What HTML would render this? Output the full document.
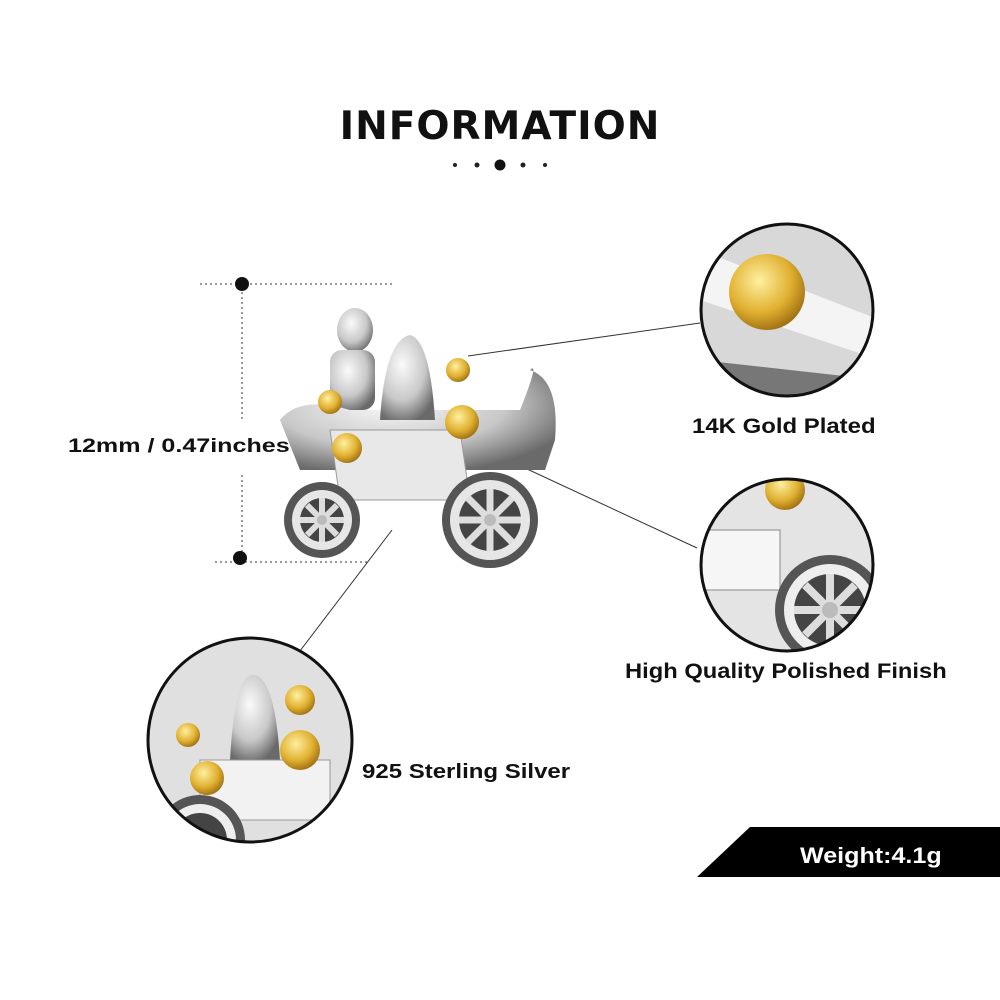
<!DOCTYPE html>
<html><head><meta charset="utf-8"><style>
html,body{margin:0;padding:0;background:#fff;}
body{width:1000px;height:1000px;position:relative;overflow:hidden;font-family:"Liberation Sans",Arial,sans-serif;}
.t{position:absolute;font-weight:bold;color:#111;white-space:nowrap;transform-origin:0 0;}
</style></head><body>
<svg width="1000" height="1000" style="position:absolute;left:0;top:0">
<defs>
<radialGradient id="sil" cx="40%" cy="35%" r="70%"><stop offset="0" stop-color="#fafafa"/><stop offset="0.6" stop-color="#c8c8c8"/><stop offset="1" stop-color="#6a6a6a"/></radialGradient>
<radialGradient id="gold" cx="40%" cy="35%" r="70%"><stop offset="0" stop-color="#fff0a0"/><stop offset="0.6" stop-color="#e0b030"/><stop offset="1" stop-color="#9a6a10"/></radialGradient>
<clipPath id="c1"><circle cx="787" cy="310" r="86"/></clipPath>
<clipPath id="c2"><circle cx="787" cy="565" r="86"/></clipPath>
<clipPath id="c3"><circle cx="250" cy="740" r="102"/></clipPath>
</defs>
<circle cx="455" cy="165" r="2" fill="#222"/><circle cx="477" cy="165" r="2.5" fill="#222"/>
<circle cx="500" cy="165" r="5.5" fill="#111"/>
<circle cx="523" cy="165" r="2.5" fill="#222"/><circle cx="545" cy="165" r="2" fill="#222"/>
<g stroke="#333" stroke-width="1" stroke-dasharray="2,3" fill="none">
<line x1="200" y1="284" x2="395" y2="284"/>
<line x1="242" y1="292" x2="242" y2="420"/>
<line x1="242" y1="475" x2="242" y2="552"/>
<line x1="215" y1="562" x2="370" y2="562"/>
</g>
<circle cx="242" cy="284" r="7" fill="#111"/>
<circle cx="240" cy="558" r="7" fill="#111"/>
<g stroke="#333" stroke-width="1">
<line x1="468" y1="356" x2="700" y2="323"/>
<line x1="512" y1="462" x2="697" y2="548"/>
<line x1="392" y1="530" x2="287" y2="668"/>
</g>
<g>
<ellipse cx="355" cy="330" rx="18" ry="22" fill="url(#sil)"/>
<rect x="330" y="350" width="45" height="60" rx="12" fill="url(#sil)"/>
<path d="M280 420 Q300 395 350 410 L520 410 Q540 360 530 370 Q560 380 555 440 L545 470 L300 470 Z" fill="url(#sil)"/>
<path d="M380 420 Q385 340 410 335 Q430 340 435 420 Z" fill="url(#sil)"/>
<path d="M330 430 L460 430 L470 500 L340 500 Z" fill="#e8e8e8" stroke="#999"/>
<g transform="translate(322,520)"><circle r="38" fill="#555"/><circle r="30" fill="#e6e6e6"/><circle r="22" fill="#444"/><g stroke="#ddd" stroke-width="6"><line x1="-22" y1="0" x2="22" y2="0"/><line x1="0" y1="-22" x2="0" y2="22"/><line x1="-15" y1="-15" x2="15" y2="15"/><line x1="-15" y1="15" x2="15" y2="-15"/></g><circle r="5" fill="#bbb"/></g>
<g transform="translate(490,520)"><circle r="48" fill="#555"/><circle r="40" fill="#e6e6e6"/><circle r="31" fill="#444"/><g stroke="#ddd" stroke-width="7"><line x1="-31" y1="0" x2="31" y2="0"/><line x1="0" y1="-31" x2="0" y2="31"/><line x1="-22" y1="-22" x2="22" y2="22"/><line x1="-22" y1="22" x2="22" y2="-22"/></g><circle r="6" fill="#bbb"/></g>
<circle cx="458" cy="370" r="12" fill="url(#gold)"/>
<circle cx="330" cy="402" r="12" fill="url(#gold)"/>
<circle cx="462" cy="422" r="17" fill="url(#gold)"/>
<circle cx="347" cy="448" r="15" fill="url(#gold)"/>
</g>
<g clip-path="url(#c1)">
<rect x="690" y="220" width="200" height="180" fill="#d8d8d8"/>
<path d="M700 250 L880 320 L880 360 L700 300Z" fill="#f4f4f4"/>
<path d="M700 360 L880 380 L880 400 L700 400Z" fill="#777"/>
<circle cx="767" cy="292" r="38" fill="url(#gold)"/>
</g>
<circle cx="787" cy="310" r="86" fill="none" stroke="#111" stroke-width="3"/>
<g clip-path="url(#c2)">
<rect x="690" y="470" width="200" height="190" fill="#e4e4e4"/>
<rect x="700" y="530" width="80" height="60" fill="#f6f6f6" stroke="#888"/>
<g transform="translate(830,610)"><circle r="55" fill="#555"/><circle r="46" fill="#eee"/><circle r="36" fill="#444"/><g stroke="#ddd" stroke-width="8"><line x1="-36" y1="0" x2="36" y2="0"/><line x1="0" y1="-36" x2="0" y2="36"/><line x1="-25" y1="-25" x2="25" y2="25"/><line x1="-25" y1="25" x2="25" y2="-25"/></g><circle r="8" fill="#bbb"/></g>
<circle cx="785" cy="490" r="20" fill="url(#gold)"/>
</g>
<circle cx="787" cy="565" r="86" fill="none" stroke="#111" stroke-width="3"/>
<g clip-path="url(#c3)">
<rect x="145" y="635" width="210" height="210" fill="#e0e0e0"/>
<path d="M230 760 Q235 670 255 675 Q275 680 280 760Z" fill="url(#sil)"/>
<rect x="200" y="760" width="130" height="60" fill="#f2f2f2" stroke="#999"/>
<g transform="translate(200,840)"><circle r="45" fill="#555"/><circle r="36" fill="#eee"/><circle r="27" fill="#444"/></g>
<circle cx="300" cy="700" r="15" fill="url(#gold)"/>
<circle cx="300" cy="750" r="20" fill="url(#gold)"/>
<circle cx="207" cy="778" r="17" fill="url(#gold)"/>
<circle cx="188" cy="735" r="12" fill="url(#gold)"/>
</g>
<circle cx="250" cy="740" r="102" fill="none" stroke="#111" stroke-width="3"/>
<polygon points="750,827 1000,827 1000,877 697,877" fill="#000"/>
</svg>
<div class="t" style="left:0;width:1000px;text-align:center;top:104px;font-size:39px;letter-spacing:1px;font-family:'DejaVu Sans','Liberation Sans',sans-serif;">INFORMATION</div>
<div class="t" style="left:68px;top:436px;font-size:19px;transform:scaleX(1.32);">12mm / 0.47inches</div>
<div class="t" style="left:692px;top:415px;font-size:21px;transform:scaleX(1.14);">14K Gold Plated</div>
<div class="t" style="left:625px;top:660px;font-size:21px;transform:scaleX(1.13);">High Quality Polished Finish</div>
<div class="t" style="left:362px;top:761px;font-size:20px;transform:scaleX(1.2);">925 Sterling Silver</div>
<div class="t" style="left:800px;top:843px;font-size:22px;color:#fff;transform:scaleX(1.14);">Weight:4.1g</div>
</body></html>
